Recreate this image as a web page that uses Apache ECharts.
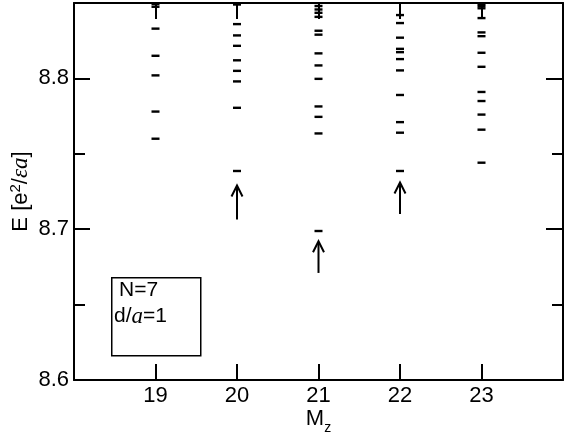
<!DOCTYPE html>
<html>
<head>
<meta charset="utf-8">
<script src="https://cdn.jsdelivr.net/npm/echarts@6/dist/echarts.min.js"></script>
<style>
  html, body { margin: 0; padding: 0; background: #fff; }
  #chart { width: 566px; height: 436px; }
</style>
</head>
<body>
<div id="chart"></div>
<script>
// M_z values and the energy levels at each one
const mzValues = [19, 20, 21, 22, 23]
const levels19 = [8.8493, 8.8475, 8.833, 8.815, 8.802, 8.778, 8.760]
const levels20 = [8.849, 8.836, 8.8285, 8.8216, 8.812, 8.805, 8.798, 8.7805, 8.7386]
const levels21 = [8.848, 8.8457, 8.8435, 8.8408, 8.8316, 8.829, 8.8166, 8.8086, 8.7997, 8.7814, 8.7745, 8.7635, 8.6988]
const levels22 = [8.842, 8.8367, 8.827, 8.8196, 8.8174, 8.8128, 8.8053, 8.789, 8.771, 8.764, 8.7386]
const levels23 = [8.8493, 8.848, 8.8465, 8.840, 8.8305, 8.828, 8.817, 8.8077, 8.791, 8.785, 8.776, 8.766, 8.7441]

// arrows pointing to the lowest states
const arrowX = [20, 21, 22]
const arrowTail = [8.7065, 8.671, 8.710]
const arrowTip = [8.729, 8.692, 8.731]

const levelsByMz = [levels19, levels20, levels21, levels22, levels23]
const dashData = []
levelsByMz.forEach((arr, i) => {
  arr.forEach((v) => dashData.push([mzValues[i], v]))
})
const arrowData = arrowX.map((x, i) => [x, arrowTail[i], arrowTip[i]])

const font = 'Liberation Sans'
const black = '#000'
const lineStyle = { color: black, width: 2 }

const frameX = (pos, showLabel) => ({
  type: 'value',
  position: pos,
  min: 18,
  max: 24,
  interval: 1,
  axisLine: { onZero: false, lineStyle },
  axisTick: { inside: true, length: 16, lineStyle },
  axisLabel: {
    show: showLabel,
    fontFamily: font,
    fontSize: 22,
    color: black,
    margin: 5,
    formatter: (v) => (v === 18 || v === 24 ? '' : String(v))
  },
  splitLine: { show: false }
})

const frameY = (pos, interval, tickLen, showLabel) => ({
  type: 'value',
  position: pos,
  min: 8.6,
  max: 8.85,
  interval: interval,
  axisLine: { show: interval === 0.1, onZero: false, lineStyle },
  axisTick: { inside: true, length: tickLen, lineStyle },
  axisLabel: {
    show: showLabel,
    showMaxLabel: false,
    fontFamily: font,
    fontSize: 22,
    color: black,
    margin: 5,
    formatter: (v) => v.toFixed(1)
  },
  splitLine: { show: false }
})

const xBottom = frameX('bottom', true)
xBottom.name = '{m|M}{s|z}'
xBottom.nameLocation = 'middle'
xBottom.nameGap = 23
xBottom.nameMoveOverlap = false
xBottom.nameTextStyle = {
  rich: {
    m: { fontFamily: font, fontSize: 22, color: black, lineHeight: 32 },
    s: { fontFamily: font, fontSize: 14, color: black, lineHeight: 14, verticalAlign: 'bottom' }
  }
}

const yLeft = frameY('left', 0.1, 16, true)
yLeft.name = '{t|E [e}{sup|2}{t|/}{i|εa}{t|]}'
yLeft.nameLocation = 'middle'
yLeft.nameGap = 40
yLeft.nameMoveOverlap = false
yLeft.nameTextStyle = {
  rich: {
    t: { fontFamily: font, fontSize: 22, color: black, lineHeight: 26 },
    sup: { fontFamily: font, fontSize: 15, color: black, lineHeight: 15, verticalAlign: 'top' },
    i: { fontFamily: 'Liberation Serif', fontStyle: 'italic', fontSize: 23, color: black, lineHeight: 26 }
  }
}

const chart = echarts.init(document.getElementById('chart'))

chart.setOption({
  animation: false,
  backgroundColor: '#fff',
  grid: { left: 74, right: 3, top: 3, bottom: 56, containLabel: false, outerBoundsMode: 'none' },
  xAxis: [xBottom, frameX('top', false)],
  yAxis: [
    yLeft,
    frameY('left', 0.05, 11, false),
    frameY('right', 0.1, 17, false),
    frameY('right', 0.05, 11, false)
  ],
  graphic: [
    {
      type: 'rect',
      left: 111,
      top: 277,
      shape: { width: 89, height: 78 },
      style: { fill: 'transparent', stroke: black, lineWidth: 1.5 }
    },
    {
      type: 'text',
      left: 119,
      top: 280,
      style: { text: 'N=7', fontFamily: font, fontSize: 21, fill: black }
    },
    {
      type: 'text',
      left: 114,
      top: 305,
      style: {
        text: '{t|d/}{i|a}{t|=1}',
        rich: {
          t: { fontFamily: font, fontSize: 21, fill: black },
          i: { fontFamily: 'Liberation Serif', fontStyle: 'italic', fontSize: 23, fill: black }
        }
      }
    }
  ],
  series: [
    {
      type: 'scatter',
      xAxisIndex: 0,
      yAxisIndex: 0,
      symbol: 'rect',
      symbolSize: [8, 2.4],
      itemStyle: { color: black, opacity: 1 },
      silent: true,
      data: dashData
    },
    {
      type: 'custom',
      xAxisIndex: 0,
      yAxisIndex: 0,
      silent: true,
      data: arrowData,
      renderItem: (params, api) => {
        const p0 = api.coord([api.value(0), api.value(1)])
        const p1 = api.coord([api.value(0), api.value(2)])
        return {
          type: 'group',
          children: [
            {
              type: 'line',
              shape: { x1: p0[0], y1: p0[1], x2: p1[0], y2: p1[1] + 1 },
              style: { stroke: black, lineWidth: 2 }
            },
            {
              type: 'polyline',
              shape: { points: [[p1[0] - 5.5, p1[1] + 11], [p1[0], p1[1]], [p1[0] + 5.5, p1[1] + 11]] },
              style: { stroke: black, lineWidth: 2, fill: 'none' }
            }
          ]
        }
      }
    }
  ]
})
</script>
</body>
</html>
